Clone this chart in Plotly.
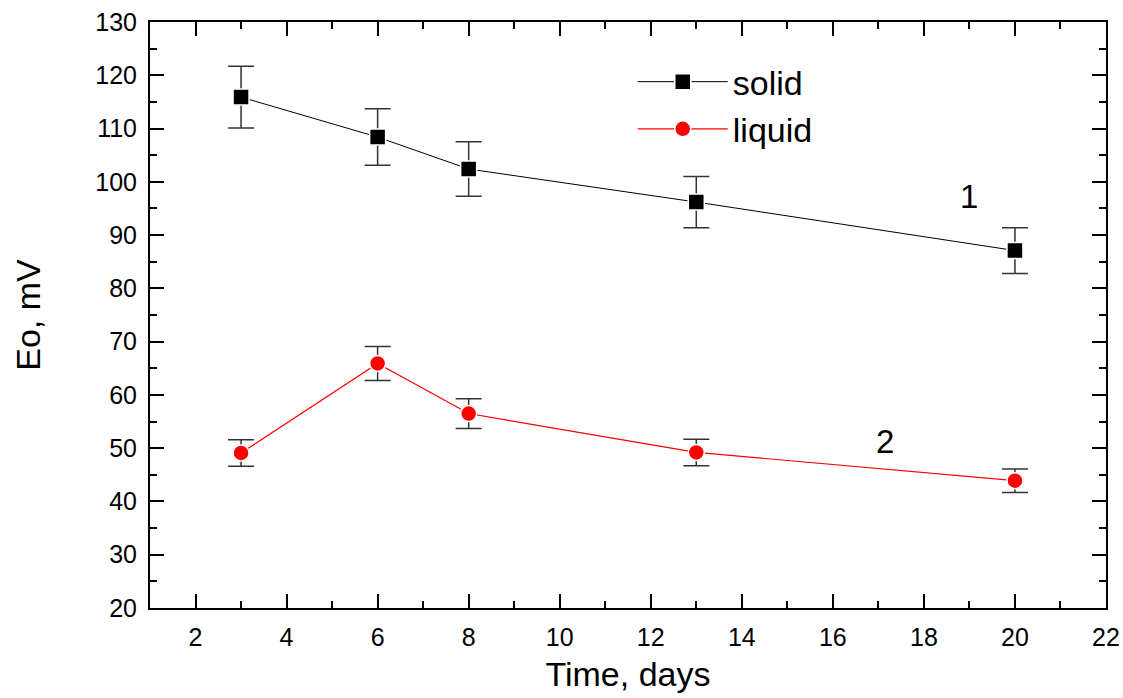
import plotly.graph_objects as go

days = [3, 6, 8, 13, 20]
solid_eo = [115.9, 108.4, 102.4, 96.2, 87.1]
solid_err = [5.8, 5.3, 5.1, 4.8, 4.3]
liquid_eo = [49.1, 65.9, 56.5, 49.2, 43.9]
liquid_err = [2.5, 3.2, 2.8, 2.5, 2.2]

series_names = ["solid", "liquid"]
curve_labels = ["1", "2"]
label_x = [19.0, 17.15]
label_y = [97.3, 51.2]

FONT = "Arial, Liberation Sans, sans-serif"

fig = go.Figure()
fig.add_trace(go.Scatter(
    x=days, y=solid_eo, name=series_names[0], mode="lines+markers",
    line=dict(color="black", width=1),
    marker=dict(symbol="square", size=16, color="black", line=dict(color="white", width=1.5)),
    error_y=dict(type="data", array=solid_err, visible=True, color="#333333", thickness=1.5, width=13),
))
fig.add_trace(go.Scatter(
    x=days, y=liquid_eo, name=series_names[1], mode="lines+markers",
    line=dict(color="#ff0000", width=1.2),
    marker=dict(symbol="circle", size=16, color="#ff0000", line=dict(color="white", width=1.5)),
    error_y=dict(type="data", array=liquid_err, visible=True, color="#333333", thickness=1.5, width=13),
))

for t, xx, yy in zip(curve_labels, label_x, label_y):
    fig.add_annotation(x=xx, y=yy, text=t, showarrow=False,
                       font=dict(family=FONT, size=33, color="black"))

axis_common = dict(
    showline=True, linecolor="black", linewidth=2, mirror="allticks",
    ticks="inside", ticklen=14, tickwidth=2, tickcolor="black",
    showgrid=False, zeroline=False, automargin=False,
    tickfont=dict(family=FONT, size=25, color="black"),
)

fig.update_xaxes(
    range=[1, 22], tick0=2, dtick=2,
    minor=dict(ticks="inside", ticklen=7, tickwidth=2, tickcolor="black", dtick=1, tick0=1, showgrid=False),
    title=dict(text="Time, days", font=dict(family=FONT, size=34, color="black"), standoff=12),
    ticklabelstandoff=6,
    **axis_common,
)
fig.update_yaxes(
    range=[20, 130], tick0=20, dtick=10,
    minor=dict(ticks="inside", ticklen=7, tickwidth=2, tickcolor="black", dtick=5, tick0=20, showgrid=False),
    title=dict(text="Eo, mV", font=dict(family=FONT, size=34, color="black"), standoff=44),
    ticklabelstandoff=6,
    **axis_common,
)

fig.update_layout(
    width=1123, height=698,
    margin=dict(l=150, r=17, t=22, b=90),
    plot_bgcolor="white", paper_bgcolor="white",
    font=dict(family=FONT, color="black"),
    legend=dict(x=0.505, y=0.947, xanchor="left", yanchor="top",
                font=dict(family=FONT, size=34, color="black"),
                itemwidth=90, bgcolor="rgba(0,0,0,0)", tracegroupgap=0),
)

fig.write_html("out.html")
